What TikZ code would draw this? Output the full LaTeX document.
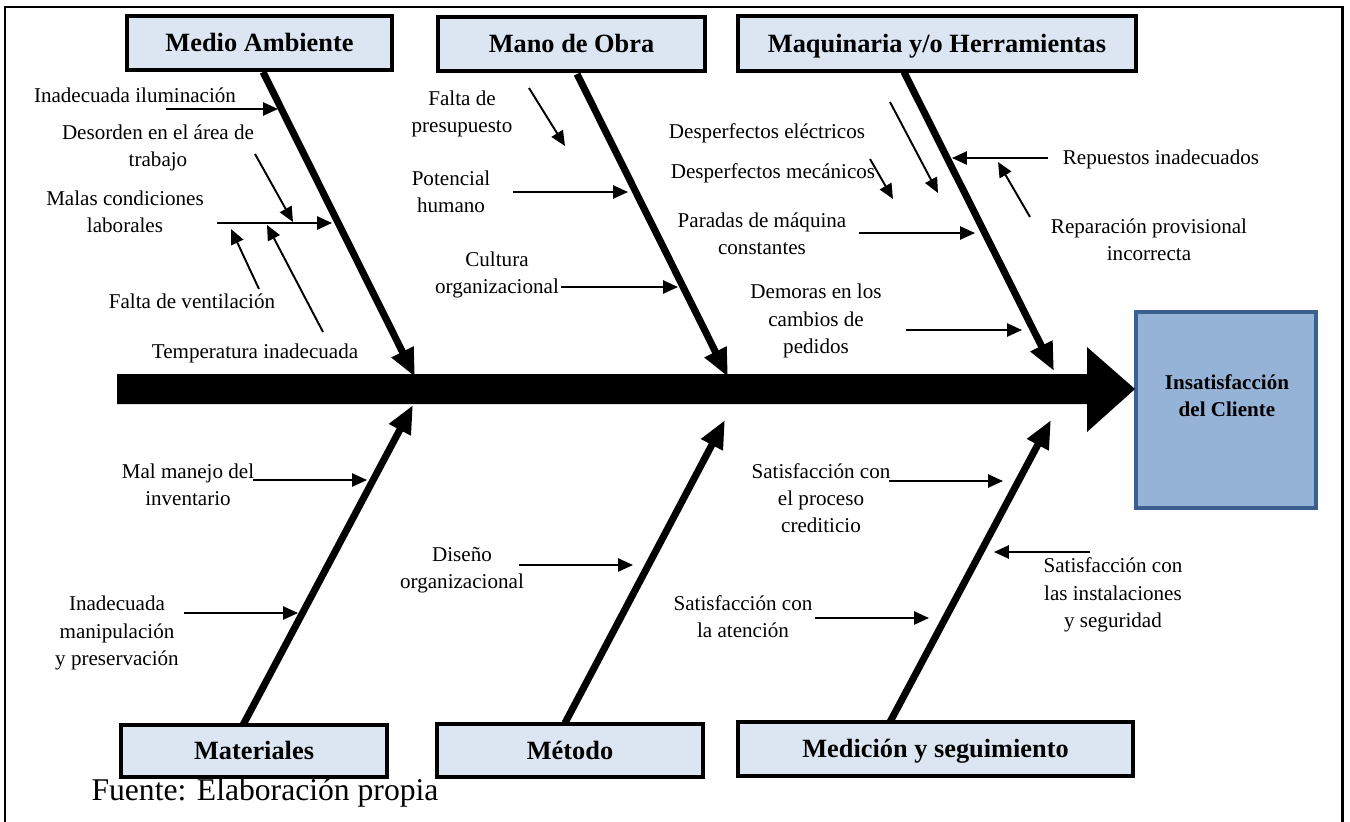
\documentclass[tikz,border=0pt]{standalone}
\usepackage{fontspec}
\setmainfont{Liberation Serif}
\usetikzlibrary{arrows.meta}

\definecolor{catfill}{HTML}{DCE6F2}
\definecolor{headfill}{HTML}{95B3D7}
\definecolor{headline}{HTML}{3B5F8F}

\begin{document}
\begin{tikzpicture}[x=0.02cm, y=-0.02cm,
    cat/.style={draw, line width=2.2pt, fill=catfill, inner sep=0pt,
      font=\fontsize{15}{18}\selectfont\bfseries, text height=11pt, text depth=1pt},
    cause/.style={align=center, inner sep=1pt, font=\fontsize{12}{15.5}\selectfont},
    bone/.style={line width=4pt, -{Triangle[length=16pt, width=13pt]}},
    sub/.style={line width=1.1pt, -{Triangle[length=8.5pt, width=7.5pt]}}]
    \useasboundingbox (0,0) rectangle (1350,822);
    % Frame
    \draw[line width=1.7pt] (5,7) rectangle (1342,840);

    % Categories
    \node[cat, minimum width=5.3cm, minimum height=1.08cm] (ma) at (259.5,43) {Medio Ambiente};
    \node[cat, minimum width=5.34cm, minimum height=1.08cm] (mo) at (571.5,44) {Mano de Obra};
    \node[cat, minimum width=7.96cm, minimum height=1.1cm] (mh) at (937,43.5) {Maquinaria y/o Herramientas};
    \node[cat, minimum width=5.32cm, minimum height=1.04cm] (mat) at (254,751) {Materiales};
    \node[cat, minimum width=5.32cm, minimum height=1.06cm] (met) at (570,750.5) {Método};
    \node[cat, minimum width=7.9cm, minimum height=1.08cm] (med) at (935.5,749) {Medición y seguimiento};

    % Effect
    \node[draw=headline, line width=2pt, fill=headfill, minimum width=3.6cm, minimum height=3.92cm] (head) at (1226,410) {};
    \node[align=center, font=\fontsize{12}{15.5}\selectfont\bfseries] (headtxt) at (1227,396) {Insatisfacción\\del Cliente};

    % Spine
    \coordinate (tail) at (117,389);
    \coordinate (tip) at (1135,389);
    \fill (tail) ++(0,-15) -- (1087,374) -- (1087,347) -- (tip) -- (1087,432) -- (1087,404) -- (117,404) -- cycle;

    % Bones
    \coordinate (b1s) at (263,72);   \coordinate (b1e) at (415,377);
    \coordinate (b2s) at (577,74);   \coordinate (b2e) at (728,377);
    \coordinate (b3s) at (904,72);   \coordinate (b3e) at (1054,371);
    \coordinate (b4s) at (243,725);  \coordinate (b4e) at (413,405);
    \coordinate (b5s) at (565,723);  \coordinate (b5e) at (725,420);
    \coordinate (b6s) at (890,722);  \coordinate (b6e) at (1051,420);
    \foreach \b in {1,...,6}
      \draw[bone] (b\b s) -- (b\b e);

    % Medio Ambiente
    \node[cause] (t1) at (135,95) {Inadecuada iluminación};
    \node[cause] (t2) at (158,148) {Desorden en el área de\\trabajo};
    \node[cause] (t3) at (125,212) {Malas condiciones\\laborales};
    \node[cause] (t4) at (192,301) {Falta de ventilación};
    \node[cause] (t5) at (255,353) {Temperatura inadecuada};
    \coordinate (s1a) at (166,109); \coordinate (s1b) at (278,109);
    \coordinate (s2a) at (255,154); \coordinate (s2b) at (293,222);
    \coordinate (s3a) at (217,223); \coordinate (s3b) at (332,223);
    \coordinate (s4a) at (259,289); \coordinate (s4b) at (231,229);
    \coordinate (s5a) at (323,332); \coordinate (s5b) at (267,225);

    % Mano de Obra
    \node[cause] (t6) at (462,114) {Falta de\\presupuesto};
    \node[cause] (t7) at (451,192) {Potencial\\humano};
    \node[cause] (t8) at (497,275) {Cultura\\organizacional};
    \coordinate (s6a) at (529,88);  \coordinate (s6b) at (565,146);
    \coordinate (s7a) at (513,192); \coordinate (s7b) at (628,192);
    \coordinate (s8a) at (t8.east |- 0,287); \coordinate (s8b) at (678,287);

    % Maquinaria y/o Herramientas
    \node[cause] (t9) at (767,133) {Desperfectos eléctricos};
    \node[cause] (t10) at (773,173) {Desperfectos mecánicos};
    \node[cause] (t11) at (762,234) {Paradas de máquina\\constantes};
    \node[cause] (t12) at (816,321) {Demoras en los\\cambios de\\pedidos};
    \node[cause] (t13) at (1161,159) {Repuestos inadecuados};
    \node[cause] (t14) at (1149,240) {Reparación provisional\\incorrecta};
    \coordinate (s9a) at (870,159);   \coordinate (s9b) at (893,199);
    \coordinate (s10a) at (890,102);  \coordinate (s10b) at (938,193);
    \coordinate (s11a) at (859,233);  \coordinate (s11b) at (975,233);
    \coordinate (s12a) at (906,330);  \coordinate (s12b) at (1022,330);
    \coordinate (s13a) at (1048,158); \coordinate (s13b) at (952,158);
    \coordinate (s14a) at (1030,217); \coordinate (s14b) at (998,162);

    % Materiales
    \node[cause] (t15) at (188,485) {Mal manejo del\\inventario};
    \node[cause] (t16) at (117,633) {Inadecuada\\manipulación\\y preservación};
    \coordinate (s15a) at (253,480); \coordinate (s15b) at (367,480);
    \coordinate (s16a) at (184,613); \coordinate (s16b) at (298,613);

    % Metodo
    \node[cause] (t17) at (462,570) {Diseño\\organizacional};
    \node[cause] (t18) at (743,617) {Satisfacción con\\la atención};
    \coordinate (s17a) at (519,565); \coordinate (s17b) at (633,565);
    \coordinate (s18a) at (815,618); \coordinate (s18b) at (929,618);

    % Medicion y seguimiento
    \node[cause] (t19) at (821,498) {Satisfacción con\\el proceso\\crediticio};
    \node[cause] (t20) at (1113,595) {Satisfacción con\\las instalaciones\\y seguridad};
    \coordinate (s19a) at (889,481);  \coordinate (s19b) at (1003,481);
    \coordinate (s20a) at (1090,552); \coordinate (s20b) at (994,552);

    \foreach \s in {1,...,20}
      \draw[sub] (s\s a) -- (s\s b);

    % Source
    \node[font=\fontsize{18}{21}\selectfont] (src) at (265,793) {Fuente: Elaboración propia};
\end{tikzpicture}
\end{document}
